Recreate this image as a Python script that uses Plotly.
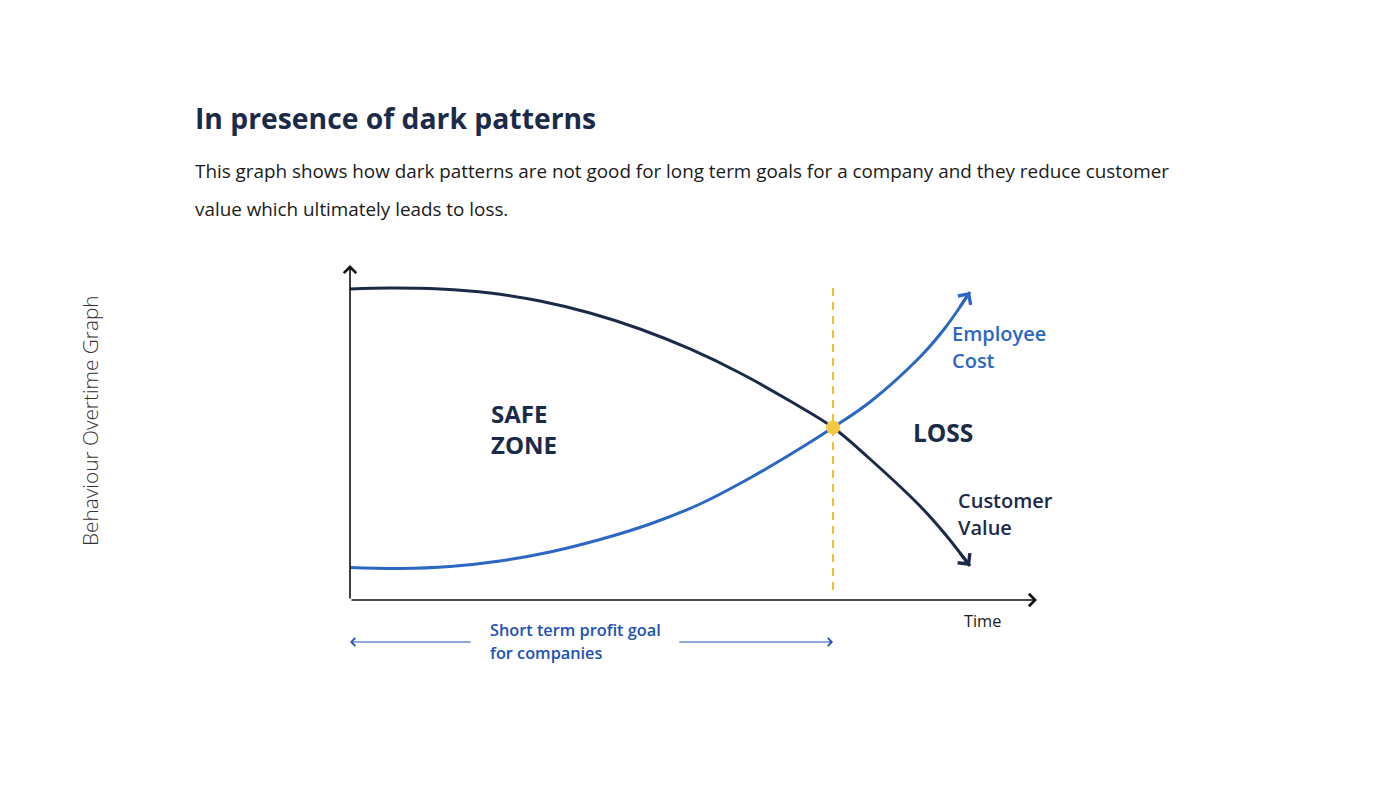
import plotly.graph_objects as go

# ---- data (time 0..100, value 0..100) ----
time_value = [0, 5.82, 13.10, 20.38, 27.66, 34.93, 42.21, 49.49, 56.77, 64.05, 70.31, 75.69, 82.97, 86.61, 90.25]
customer_value = [92.84, 93.13, 92.84, 91.64, 89.25, 85.67, 80.90, 74.93, 67.76, 59.40, 51.5, 42.09, 28.06, 19.70, 10.15]
time_cost = [0, 7.28, 14.56, 21.83, 29.11, 36.39, 43.67, 50.95, 58.22, 65.50, 70.31, 75.69, 82.97, 86.61, 90.25]
employee_cost = [9.70, 9.40, 10.0, 11.64, 14.33, 18.06, 22.69, 28.66, 36.42, 45.22, 51.5, 59.10, 72.54, 81.19, 91.94]
cross_time = 70.31
cross_value = 51.5
goal_start = 0
goal_end = 70.31

NAVY = "#1C2A4A"
BLUE = "#2C67C3"
DARKBLUE_TXT = "#1E52B5"
YELLOW = "#F5C842"
DASH = "#F4B916"
FONT = "Open Sans"

fig = go.Figure()

fig.add_trace(go.Scatter(x=time_value, y=customer_value, mode="lines",
                         line=dict(color=NAVY, width=3, shape="spline", smoothing=1.0),
                         hoverinfo="skip", showlegend=False))
fig.add_trace(go.Scatter(x=time_cost, y=employee_cost, mode="lines",
                         line=dict(color=BLUE, width=3, shape="spline", smoothing=1.0),
                         hoverinfo="skip", showlegend=False))

# dashed vertical line at crossing
fig.add_trace(go.Scatter(x=[cross_time, cross_time], y=[3, 93.4], mode="lines",
                         line=dict(color=DASH, width=1.8, dash="8px,6px"),
                         hoverinfo="skip", showlegend=False))
# crossing point
fig.add_trace(go.Scatter(x=[cross_time], y=[cross_value], mode="markers",
                         marker=dict(color=YELLOW, size=14, line=dict(width=0)),
                         cliponaxis=False, hoverinfo="skip", showlegend=False))

ann = []
# curve arrowheads
ann.append(dict(x=time_cost[-1], y=employee_cost[-1], xref="x", yref="y",
                ax=time_cost[-1] - 1.6, ay=employee_cost[-1] - 4.8, axref="x", ayref="y",
                showarrow=True, arrowhead=4, arrowsize=1.0, arrowwidth=3, arrowcolor=BLUE,
                standoff=0, text=""))
ann.append(dict(x=time_value[-1], y=customer_value[-1], xref="x", yref="y",
                ax=time_value[-1] - 1.6, ay=customer_value[-1] + 4.2, axref="x", ayref="y",
                showarrow=True, arrowhead=4, arrowsize=1.0, arrowwidth=3, arrowcolor=NAVY,
                standoff=0, text=""))
# axes arrows
ann.append(dict(x=0, y=100, xref="x", yref="y", ax=0, ay=0, axref="x", ayref="y",
                showarrow=True, arrowhead=4, arrowsize=1.5, arrowwidth=1.6, arrowcolor="#111111",
                standoff=0, text=""))
ann.append(dict(x=100, y=0, xref="x", yref="y", ax=0, ay=0, axref="x", ayref="y",
                showarrow=True, arrowhead=4, arrowsize=1.5, arrowwidth=1.6, arrowcolor="#111111",
                standoff=0, text=""))
# short-term goal arrows (below axis)
goal_y = 1 - 642 / 788
ann.append(dict(x=goal_start, y=goal_y, xref="x", yref="paper",
                ax=17.8, ay=0, axref="x", ayref="pixel",
                showarrow=True, arrowhead=4, arrowsize=1.3, arrowwidth=1.2, arrowcolor=DARKBLUE_TXT,
                standoff=0, text=""))
ann.append(dict(x=goal_end, y=goal_y, xref="x", yref="paper",
                ax=47.7, ay=0, axref="x", ayref="pixel",
                showarrow=True, arrowhead=4, arrowsize=1.3, arrowwidth=1.2, arrowcolor=DARKBLUE_TXT,
                standoff=0, text=""))


def txt(s, px, py, size, color, weight=400, xanchor="left", textangle=0, family=FONT):
    return dict(text=s, x=px / 1400, y=1 - py / 788, xref="paper", yref="paper",
                xanchor=xanchor, yanchor="middle", align="left", showarrow=False,
                textangle=textangle,
                font=dict(family=family, size=size, color=color, weight=weight))


ann.append(txt("In presence of dark patterns", 193, 118, 28.3, NAVY, 700))
ann.append(txt("This graph shows how dark patterns are not good for long term goals for a company and they reduce customer",
               193, 171, 18.85, "#1A1A1A", 400))
ann.append(txt("value which ultimately leads to loss.", 193, 209, 18.85, "#1A1A1A", 400))
ann.append(txt("Behaviour Overtime Graph", 90, 420, 20.8, "#333333", 300, xanchor="center", textangle=-90))
ann.append(txt("SAFE<br>ZONE", 489, 429, 24, NAVY, 700))
ann.append(txt("LOSS", 911, 432, 24.5, NAVY, 700))
ann.append(txt("Employee", 950, 333, 20, BLUE, 600))
ann.append(txt("Cost", 950, 360, 20, BLUE, 600))
ann.append(txt("Customer", 956, 500, 20, NAVY, 600))
ann.append(txt("Value", 956, 527, 20, NAVY, 600))
ann.append(txt("Time", 962, 621, 16.3, "#1A1A1A", 400))
ann.append(txt("Short term profit goal", 488, 630, 16.3, DARKBLUE_TXT, 600))
ann.append(txt("for companies", 488, 653, 16.3, DARKBLUE_TXT, 600))

fig.update_layout(
    width=1400, height=788,
    margin=dict(l=0, r=0, t=0, b=0),
    paper_bgcolor="white", plot_bgcolor="white",
    xaxis=dict(domain=[350 / 1400, 1037 / 1400], range=[0, 100], visible=False, fixedrange=True),
    yaxis=dict(domain=[188 / 788, 523 / 788], range=[0, 100], visible=False, fixedrange=True),
    annotations=ann,
    showlegend=False,
)

fig.write_html("out.html", config={"displayModeBar": False},
               post_script="document.body.style.margin='0';")
